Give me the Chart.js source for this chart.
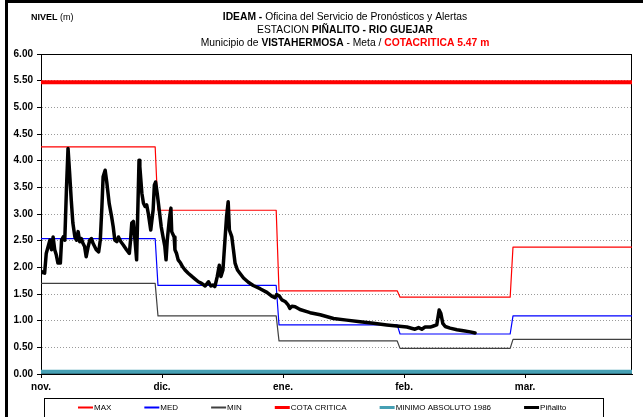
<!DOCTYPE html>
<html>
<head>
<meta charset="utf-8">
<script src="https://cdn.jsdelivr.net/npm/chart.js@4"></script>
<style>
  html, body { margin: 0; padding: 0; background: #fff; }
  #wrap { width: 643px; height: 417px; }
</style>
</head>
<body>
<div id="wrap"><canvas id="nivelChart" width="643" height="417"></canvas></div>
<script>
// Axis: days counted from the start of november
const months = ['nov.', 'dic.', 'ene.', 'feb.', 'mar.'];
const monthDays = [0, 30, 60, 90, 120];
const axisEndDay = 146.5;
const levelTicks = [0, 0.5, 1, 1.5, 2, 2.5, 3, 3.5, 4, 4.5, 5, 5.5, 6];

// Monthly reference levels (m): one value per period, change days in between
const stepDays = [28.3, 58.3, 88.3, 116.3];
const maxLevels = [4.26, 3.07, 1.56, 1.44, 2.38];
const medLevels = [2.54, 1.66, 0.92, 0.75, 1.09];
const minLevels = [1.70, 1.09, 0.62, 0.48, 0.65];
const cotaCritica = 5.47;
const minimoAbsoluto = 0.04;

// Piñalito station readings
const pinalitoDays = [
  0.0, 0.5, 0.9, 1.3, 2.2, 2.6, 3.0, 3.4, 3.8, 4.2, 4.8, 5.1, 5.5, 5.9, 6.3, 6.7, 7.1, 7.5, 7.9, 8.4,
  8.8, 9.2, 9.6, 10.0, 10.4, 10.8, 11.2, 11.7, 12.1, 12.5, 12.9, 13.3, 13.7, 14.3, 14.7, 15.1, 15.4, 15.9, 16.3, 16.9,
  17.5, 17.9, 18.3, 18.8, 19.2, 19.8, 20.4, 21.2, 21.9, 22.2, 22.5, 22.9, 23.3, 23.7, 24.3, 24.5, 25.0, 25.4, 25.8, 26.2,
  26.6, 27.2, 27.8, 28.1, 28.4, 28.8, 29.3, 29.8, 30.3, 30.7, 31.0, 31.3, 31.8, 32.2, 32.4, 33.0, 33.2, 33.6, 34.0, 34.6,
  35.1, 35.7, 36.5, 37.4, 38.2, 39.0, 39.8, 40.7, 41.5, 42.1, 42.6, 43.1, 43.7, 44.2, 44.6, 45.1, 45.6, 46.0, 46.4, 46.7,
  47.3, 47.7, 48.1, 48.7, 49.3, 50.2, 51.4, 52.6, 54.3, 56.0, 57.2, 58.0, 58.4, 59.1, 59.7, 60.5, 61.3, 61.7, 62.2, 63.0,
  64.2, 65.9, 66.7, 69.2, 72.5, 75.8, 79.1, 82.4, 85.7, 88.2, 90.7, 92.7, 93.6, 94.4, 95.2, 96.5, 97.3, 98.1, 98.7, 99.1,
  99.6, 100.2, 101.4, 103.1, 104.7, 106.4, 107.6
];
const pinalitoLevels = [
  1.93, 1.90, 1.89, 2.26, 2.51, 2.33, 2.57, 2.33, 2.23, 2.08, 2.08, 2.51, 2.57, 2.51, 3.45, 4.23, 3.76, 3.26, 2.83, 2.57,
  2.51, 2.67, 2.48, 2.54, 2.45, 2.39, 2.20, 2.39, 2.51, 2.54, 2.45, 2.39, 2.33, 2.29, 2.51, 3.14, 3.70, 3.82, 3.60, 3.20,
  2.95, 2.76, 2.51, 2.48, 2.57, 2.48, 2.42, 2.33, 2.26, 2.51, 2.83, 2.86, 2.51, 2.14, 4.01, 3.89, 3.39, 3.20, 3.14, 3.17,
  3.01, 2.70, 3.08, 3.54, 3.60, 3.39, 3.08, 2.76, 2.55, 2.39, 2.14, 2.51, 2.89, 3.11, 2.67, 2.57, 2.33, 2.26, 2.14, 2.08,
  2.01, 1.95, 1.89, 1.83, 1.78, 1.73, 1.70, 1.65, 1.73, 1.65, 1.67, 1.64, 1.83, 2.04, 1.83, 1.95, 2.51, 2.95, 3.23, 2.70,
  2.57, 2.33, 2.08, 1.95, 1.89, 1.80, 1.72, 1.66, 1.60, 1.53, 1.46, 1.43, 1.49, 1.46, 1.39, 1.36, 1.29, 1.23, 1.27, 1.26,
  1.21, 1.17, 1.15, 1.11, 1.04, 1.01, 0.98, 0.95, 0.92, 0.90, 0.88, 0.84, 0.87, 0.84, 0.88, 0.88, 0.90, 0.92, 1.20, 1.14,
  0.95, 0.89, 0.86, 0.83, 0.81, 0.79, 0.77
];

const FONT = '"Liberation Sans", Arial, sans-serif';

// step line: flat per period, short slope at each change day
function stepPoints(levels) {
  const pts = [];
  const edges = [0, ...stepDays, axisEndDay];
  levels.forEach((v, i) => {
    pts.push({ x: i === 0 ? edges[i] : edges[i] + 0.7, y: v });
    pts.push({ x: edges[i + 1], y: v });
  });
  return pts;
}

function flatLine(v) {
  return [{ x: 0, y: v }, { x: axisEndDay, y: v }];
}

function drawRuns(ctx, runs, cx, y) {
  let total = 0;
  runs.forEach(r => {
    ctx.font = r.font;
    r.w = ctx.measureText(r.text).width;
    total += r.w;
  });
  let x = cx - total / 2;
  runs.forEach(r => {
    ctx.font = r.font;
    ctx.fillStyle = r.color || '#000';
    ctx.fillText(r.text, x, y);
    x += r.w;
  });
}

// outer frame, plot border, headings
const framePlugin = {
  id: 'frame',
  beforeDatasetsDraw(chart) {
    const { ctx, chartArea: a } = chart;
    ctx.save();
    ctx.strokeStyle = '#000';
    ctx.lineWidth = 1;
    ctx.strokeRect(a.left + 0.5, a.top + 0.5, a.right - a.left - 1, a.bottom - a.top - 1);
    ctx.restore();
  },
  afterDraw(chart) {
    const { ctx } = chart;
    ctx.save();
    ctx.fillStyle = '#000';
    ctx.fillRect(5, 0, 3, 417);
    ctx.fillRect(5, 0, 638, 3);

    ctx.textBaseline = 'middle';
    const b = 'bold 10.3px ' + FONT;
    const n = '10.3px ' + FONT;
    drawRuns(ctx, [{ text: 'IDEAM - ', font: b }, { text: 'Oficina del Servicio de Pronósticos y Alertas', font: n }], 345, 17);
    drawRuns(ctx, [{ text: 'ESTACION ', font: n }, { text: 'PIÑALITO - RIO GUEJAR', font: b }], 345, 30);
    drawRuns(ctx, [
      { text: 'Municipio de ', font: n },
      { text: 'VISTAHERMOSA', font: b },
      { text: ' - Meta / ', font: n },
      { text: 'COTACRITICA ' + cotaCritica.toFixed(2) + ' m', font: b, color: '#ff0000' }
    ], 345, 43);

    ctx.textAlign = 'left';
    ctx.fillStyle = '#000';
    ctx.font = 'bold 9px ' + FONT;
    ctx.fillText('NIVEL ', 31, 18);
    const w = ctx.measureText('NIVEL ').width;
    ctx.font = '9px ' + FONT;
    ctx.fillText('(m)', 31 + w, 18);
    ctx.restore();
  }
};

// boxed legend under the axis
const legendPlugin = {
  id: 'boxLegend',
  afterDraw(chart) {
    const { ctx } = chart;
    ctx.save();
    ctx.strokeStyle = '#000';
    ctx.lineWidth = 1;
    ctx.strokeRect(44.5, 398.5, 559, 19);
    ctx.font = '8px ' + FONT;
    ctx.textBaseline = 'middle';
    let x = 78;
    const y = 407.5;
    chart.data.datasets.slice().sort((p, q) => p.legendIndex - q.legendIndex).forEach(ds => {
      ctx.strokeStyle = ds.borderColor;
      ctx.lineWidth = Math.max(2, Math.min(3, ds.borderWidth));
      ctx.beginPath();
      ctx.moveTo(x, y);
      ctx.lineTo(x + 15, y);
      ctx.stroke();
      ctx.fillStyle = '#000';
      ctx.fillText(ds.label, x + 16, y);
      x += 16 + ctx.measureText(ds.label).width + 33;
    });
    ctx.restore();
  }
};

const lineBase = { pointRadius: 0, fill: false, tension: 0, borderJoinStyle: 'round' };

new Chart(document.getElementById('nivelChart'), {
  type: 'line',
  data: {
    datasets: [
      { ...lineBase, label: 'Piñalito', legendIndex: 5, order: 0, data: pinalitoDays.map((d, i) => ({ x: d, y: pinalitoLevels[i] })), borderColor: '#000000', borderWidth: 3.5, borderCapStyle: 'round' },
      { ...lineBase, label: 'MAX', legendIndex: 0, order: 1, data: stepPoints(maxLevels), borderColor: '#ff0000', borderWidth: 1.2 },
      { ...lineBase, label: 'MED', legendIndex: 1, order: 2, data: stepPoints(medLevels), borderColor: '#0000ff', borderWidth: 1.2 },
      { ...lineBase, label: 'MIN', legendIndex: 2, order: 3, data: stepPoints(minLevels), borderColor: '#404040', borderWidth: 1.2 },
      { ...lineBase, label: 'COTA CRITICA', legendIndex: 3, order: 4, data: flatLine(cotaCritica), borderColor: '#ff0000', borderWidth: 4 },
      { ...lineBase, label: 'MINIMO ABSOLUTO 1986', legendIndex: 4, order: 5, data: flatLine(minimoAbsoluto), borderColor: '#46a0b4', borderWidth: 4 }
    ]
  },
  options: {
    responsive: false,
    animation: false,
    events: [],
    layout: { padding: { left: 0, top: 54, right: 11, bottom: 23 } },
    plugins: { legend: { display: false }, tooltip: { enabled: false } },
    scales: {
      x: {
        type: 'linear',
        min: 0,
        max: axisEndDay,
        afterBuildTicks: s => { s.ticks = monthDays.map(v => ({ value: v })); },
        afterFit: s => { s.height = 20; },
        ticks: {
          autoSkip: false,
          maxRotation: 0,
          padding: 3,
          color: '#000',
          font: { family: FONT, size: 10, weight: 'bold' },
          callback: (v, i) => months[i]
        },
        grid: { drawOnChartArea: false, tickLength: 4, color: '#000' },
        border: { color: '#000' }
      },
      y: {
        min: 0,
        max: 6,
        afterBuildTicks: s => { s.ticks = levelTicks.map(v => ({ value: v })); },
        afterFit: s => { s.width = 41; },
        ticks: {
          padding: 4,
          color: '#000',
          font: { family: FONT, size: 10, weight: 'bold' },
          callback: v => v.toFixed(2)
        },
        grid: { color: '#9a9a9a', tickColor: '#000', tickLength: 4, tickBorderDash: [] },
        border: { color: '#000', dash: [1, 2] }
      }
    }
  },
  plugins: [framePlugin, legendPlugin]
});
</script>
</body>
</html>
